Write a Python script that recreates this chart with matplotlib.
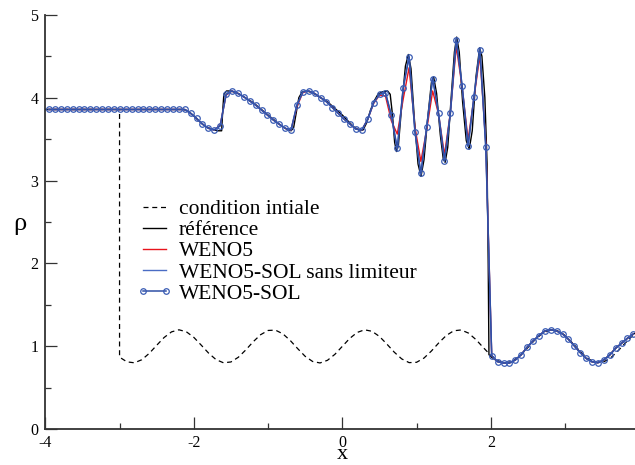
import numpy as np
import matplotlib
matplotlib.use('Agg')
import matplotlib.pyplot as plt
from matplotlib.ticker import MultipleLocator

plt.rcParams['font.family'] = ['Liberation Serif', 'DejaVu Serif']
plt.rcParams['axes.unicode_minus'] = False

# condition initiale : etat choque a gauche, densite sinusoidale a droite
x_init = np.concatenate(([-4.0, -3.0], np.linspace(-3.0, 4.0, 71)))
rho_init = [3.857, 3.857,
            0.870, 0.813, 0.802, 0.839, 0.916, 1.013, 1.107, 1.175, 1.200, 1.176,
            1.109, 1.015, 0.918, 0.840, 0.802, 0.812, 0.869, 0.957, 1.056, 1.141,
            1.192, 1.196, 1.151, 1.070, 0.972, 0.880, 0.818, 0.800, 0.832, 0.904,
            1.000, 1.096, 1.168, 1.200, 1.182, 1.120, 1.028, 0.930, 0.849, 0.804,
            0.808, 0.859, 0.944, 1.043, 1.131, 1.188, 1.198, 1.160, 1.082, 0.985,
            0.891, 0.824, 0.800, 0.825, 0.893, 0.987, 1.084, 1.161, 1.198, 1.187,
            1.130, 1.041, 0.942, 0.858, 0.808, 0.805, 0.850, 0.932, 1.030, 1.121,
            1.183]

# solution de reference (maillage fin)
x_ref = [-4.0, -2.14, -2.08, -2.00, -1.92, -1.84, -1.76, -1.68, -1.625, -1.61,
         -1.595, -1.56, -1.50, -1.40, -1.20, -1.00, -0.85, -0.75, -0.69, -0.655,
         -0.62, -0.585, -0.54, -0.48, -0.40, -0.20, 0.00, 0.15, 0.24, 0.28,
         0.33, 0.38, 0.43, 0.48, 0.54, 0.61, 0.645, 0.675, 0.705, 0.73,
         0.755, 0.80, 0.85, 0.89, 0.925, 0.97, 1.02, 1.06, 1.10, 1.15,
         1.20, 1.23, 1.27, 1.32, 1.36, 1.385, 1.42, 1.47, 1.51, 1.54,
         1.575, 1.62, 1.67, 1.71, 1.75, 1.80, 1.85, 1.88, 1.92, 1.95,
         1.965, 1.975, 2.01, 2.09, 2.17, 2.25, 2.33, 2.41, 2.49, 2.57,
         2.65, 2.73, 2.81, 2.89, 2.97, 3.05, 3.13, 3.21, 3.28, 3.36,
         3.44, 3.52, 3.60, 3.68, 3.76, 3.84, 3.92, 4.00]
rho_ref = [3.857, 3.857, 3.84, 3.78, 3.71, 3.65, 3.62, 3.60, 3.60, 3.85,
           4.04, 4.08, 4.08, 4.05, 3.94, 3.79, 3.68, 3.62, 3.60, 3.64,
           3.82, 4.00, 4.07, 4.08, 4.06, 3.95, 3.79, 3.65, 3.60, 3.61,
           3.70, 3.85, 3.96, 4.04, 4.07, 4.08, 4.04, 3.80, 3.46, 3.35,
           3.42, 3.90, 4.38, 4.52, 4.35, 3.75, 3.20, 3.05, 3.25, 3.75,
           4.18, 4.25, 4.05, 3.55, 3.26, 3.22, 3.40, 4.05, 4.55, 4.73,
           4.55, 3.95, 3.48, 3.38, 3.60, 4.25, 4.60, 4.50, 4.00, 3.20,
           2.00, 0.90, 0.87, 0.82, 0.80, 0.80, 0.836, 0.90, 0.99, 1.065,
           1.13, 1.186, 1.20, 1.186, 1.15, 1.085, 1.005, 0.924, 0.856, 0.815,
           0.803, 0.836, 0.896, 0.977, 1.037, 1.098, 1.15, 1.18]

# schemas numeriques, 100 mailles
x_num = np.linspace(-3.95, 3.92, 100)
rho_left = [3.857] * 24
rho_right = [0.89, 0.815, 0.80, 0.80, 0.836, 0.90, 0.99, 1.065, 1.13, 1.186,
             1.20, 1.186, 1.15, 1.085, 1.005, 0.924, 0.856, 0.815, 0.803, 0.836,
             0.896, 0.977, 1.037, 1.098, 1.15]

rho_sol_mid = [3.81, 3.75, 3.68, 3.63, 3.61, 3.66, 4.04, 4.08, 4.05, 4.01,
               3.96, 3.91, 3.85, 3.79, 3.73, 3.68, 3.63, 3.61, 3.91, 4.07,
               4.08, 4.05, 4.00, 3.95, 3.88, 3.81, 3.74, 3.68, 3.62, 3.61,
               3.74, 3.94, 4.04, 4.06, 3.79, 3.39, 4.11, 4.49, 3.59, 3.09,
               3.65, 4.23, 3.81, 3.24, 3.81, 4.70, 4.14, 3.42, 4.01, 4.58,
               3.40]
rho_nolim_mid = [3.81, 3.75, 3.68, 3.63, 3.61, 3.66, 4.04, 4.08, 4.05, 4.01,
                 3.96, 3.91, 3.85, 3.79, 3.73, 3.68, 3.63, 3.61, 3.91, 4.07,
                 4.08, 4.05, 4.00, 3.95, 3.88, 3.81, 3.74, 3.68, 3.62, 3.61,
                 3.74, 3.94, 4.04, 4.06, 3.78, 3.37, 4.12, 4.50, 3.58, 3.07,
                 3.66, 4.24, 3.80, 3.23, 3.82, 4.71, 4.13, 3.41, 4.02, 4.59,
                 3.40]
rho_weno5_mid = [3.81, 3.75, 3.68, 3.63, 3.61, 3.67, 4.03, 4.08, 4.05, 4.01,
                 3.96, 3.91, 3.85, 3.79, 3.73, 3.68, 3.63, 3.61, 3.89, 4.06,
                 4.08, 4.05, 4.00, 3.95, 3.88, 3.81, 3.74, 3.68, 3.62, 3.61,
                 3.74, 3.93, 4.03, 4.02, 3.72, 3.56, 3.98, 4.36, 3.64, 3.23,
                 3.62, 4.08, 3.80, 3.31, 3.82, 4.62, 4.12, 3.49, 4.00, 4.51,
                 3.45]

rho_sol = rho_left + rho_sol_mid + rho_right
rho_nolim = rho_left + rho_nolim_mid + rho_right
rho_weno5 = rho_left + rho_weno5_mid + rho_right

fig = plt.figure(figsize=(6.35, 4.65), dpi=100)
ax = fig.add_axes([45.3 / 635, 35.7 / 465, 594.0 / 635, 414.6 / 465])

ax.plot(x_init, rho_init, color='black', lw=0.9, ls=(0, (4, 3)),
        label='condition intiale')
ax.plot(x_ref, rho_ref, color='black', lw=1.0, label='référence')
ax.plot(x_num, rho_weno5, color='#e8141c', lw=1.0, label='WENO5')
ax.plot(x_num, rho_nolim, color='#4a6cc4', lw=1.0,
        label='WENO5-SOL sans limiteur')
ax.plot(x_num, rho_sol, color='#2f4fa6', lw=1.1, marker='o', ms=4.0,
        mfc='none', mec='#3a5cb4', mew=0.9, label='WENO5-SOL')

ax.set_xlim(-4, 4)
ax.set_ylim(0, 5)
ax.xaxis.set_major_locator(MultipleLocator(2))
ax.xaxis.set_minor_locator(MultipleLocator(1))
ax.yaxis.set_major_locator(MultipleLocator(1))
ax.yaxis.set_minor_locator(MultipleLocator(0.5))
ax.tick_params(which='both', direction='in', width=0.9, color='#333333',
               labelsize=11.5, pad=5, top=False, right=False)
ax.tick_params(axis='x', pad=4)
ax.tick_params(which='major', length=8.5)
ax.tick_params(which='minor', length=4.5)
for side in ['top', 'right']:
    ax.spines[side].set_visible(False)
for side in ['left', 'bottom']:
    ax.spines[side].set_linewidth(1.3)
    ax.spines[side].set_color('#333333')

fig.text(19.5 / 635, 1 - 224 / 465, 'ρ', fontsize=19, ha='center', va='center')
fig.text(342 / 635, 1 / 465, 'x', fontsize=16, ha='center', va='bottom')

ax.legend(loc='upper left', bbox_to_anchor=(136.5 / 635, 1 - 199 / 465),
          bbox_transform=fig.transFigure, frameon=False, fontsize=15.5,
          handlelength=1.67, handletextpad=0.3, labelspacing=0.05,
          borderpad=0, borderaxespad=0, numpoints=2)

fig.savefig('out.png', dpi=100)
